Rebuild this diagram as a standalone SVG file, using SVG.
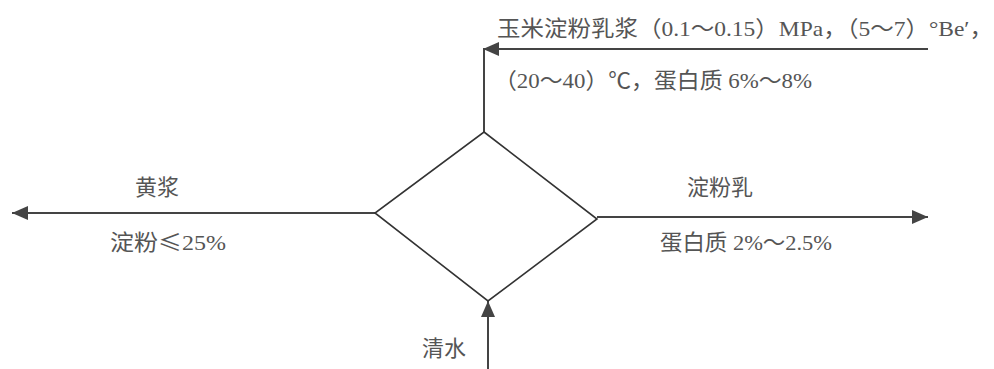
<svg xmlns="http://www.w3.org/2000/svg" width="994" height="369" viewBox="0 0 994 369">
<style>
.t{font-family:"Liberation Serif","Noto Sans CJK SC",serif;font-size:22px;fill:#555}
.cjk{font-family:"Noto Sans CJK SC",sans-serif}
.c{fill:none;stroke:#444;stroke-width:2}
.n{fill:#fff;stroke:#333;stroke-width:1.6}
</style>
<defs>
<marker id="ah" markerUnits="userSpaceOnUse" markerWidth="16" markerHeight="14" refX="16" refY="7" orient="auto" viewBox="0 0 16 14">
<path d="M0,0 L16,7 L0,14 Z" fill="#444"/>
</marker>
</defs>
<g id="connectors">
<line class="c" x1="484" y1="48" x2="484" y2="132"/>
<line class="c" x1="928" y1="49" x2="483" y2="49" marker-end="url(#ah)"/>
<line class="c" x1="375" y1="213" x2="12" y2="213" marker-end="url(#ah)"/>
<line class="c" x1="597" y1="217" x2="928" y2="217" marker-end="url(#ah)"/>
<line class="c" x1="488" y1="369" x2="488" y2="301" marker-end="url(#ah)"/>
</g>
<g id="separator">
<polygon class="n" points="484,132 597,219 488,301 375,213"/>
</g>
<g id="labels">
<text class="t" x="497" y="36" textLength="496" lengthAdjust="spacingAndGlyphs">玉米淀粉乳浆（0.1～0.15）MPa，（5～7）°Be′，</text>
<text class="t" x="494" y="88" textLength="318" lengthAdjust="spacingAndGlyphs">（20～40）℃，蛋白质 6%～8%</text>
<text class="t" x="135" y="195">黄浆</text>
<text class="t" x="110" y="250" textLength="116" lengthAdjust="spacingAndGlyphs">淀粉<tspan class="cjk">≤</tspan>25%</text>
<text class="t" x="687" y="195">淀粉乳</text>
<text class="t" x="660" y="250" textLength="172" lengthAdjust="spacingAndGlyphs">蛋白质 2%～2.5%</text>
<text class="t" x="422" y="356">清水</text>
</g>
</svg>
